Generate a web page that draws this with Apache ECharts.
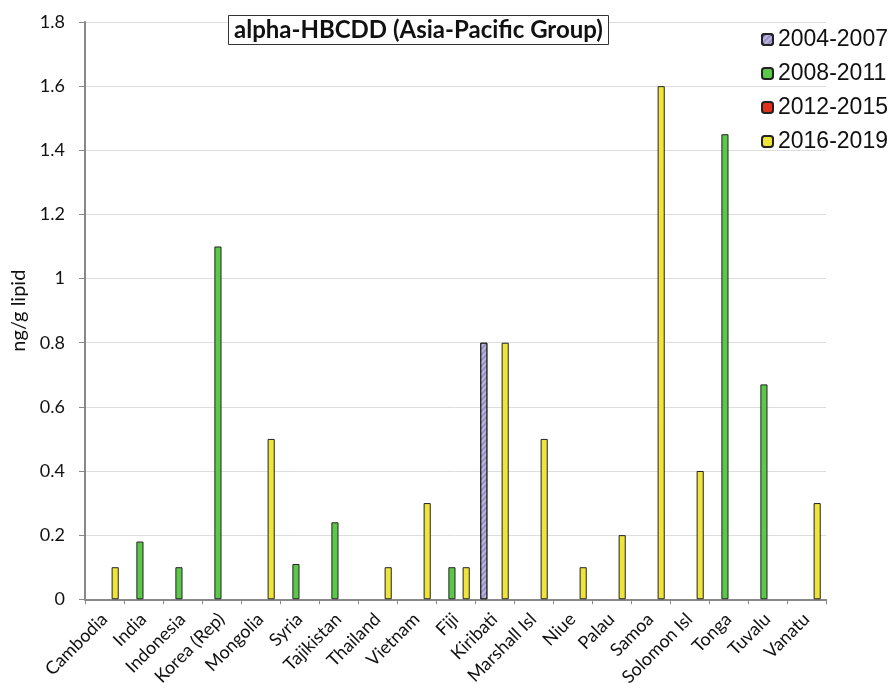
<!DOCTYPE html>
<html>
<head>
<meta charset="utf-8">
<script src="https://cdn.jsdelivr.net/npm/echarts@6/dist/echarts.min.js"></script>
<style>
  html, body { margin: 0; padding: 0; background: #fff; }
  #chart { width: 889px; height: 689px; }
</style>
</head>
<body>
<div id="chart"></div>
<script>
const countries = ['Cambodia', 'India', 'Indonesia', 'Korea (Rep)', 'Mongolia', 'Syria', 'Tajikistan', 'Thailand', 'Vietnam', 'Fiji', 'Kiribati', 'Marshall Isl', 'Niue', 'Palau', 'Samoa', 'Solomon Isl', 'Tonga', 'Tuvalu', 'Vanatu']
const periods = ['2004-2007', '2008-2011', '2012-2015', '2016-2019']

const p2004 = [null, null, null, null, null, null, null, null, null, null, 0.8, null, null, null, null, null, null, null, null]
const p2008 = [null, 0.18, 0.1, 1.1, null, 0.11, 0.24, null, null, 0.1, null, null, null, null, null, null, 1.45, 0.67, null]
const p2012 = [null, null, null, null, null, null, null, null, null, null, null, null, null, null, null, null, null, null, null]
const p2016 = [0.1, null, null, null, 0.5, null, null, 0.1, 0.3, 0.1, 0.8, 0.5, 0.1, 0.2, 1.6, 0.4, null, null, 0.3]

const colors = ['#9690c8', '#5cc84a', '#e0301e', '#eee43a']

let myChart = echarts.init(document.getElementById('chart'))

const bar = (name, data, color, extra) => ({
    name: name,
    type: 'bar',
    data: data,
    barGap: '0%',
    barCategoryGap: '27%',
    itemStyle: Object.assign({ color: color, borderColor: '#222', borderWidth: 1 }, extra || {})
})

myChart.setOption({
    animation: false,
    title: {
        text: 'alpha-HBCDD (Asia-Pacific Group)',
        left: 228,
        top: 15,
        padding: [3, 6, 3, 6],
        borderColor: '#333',
        borderWidth: 1,
        backgroundColor: '#fff',
        textStyle: { fontFamily: 'Lato', fontWeight: 'bold', fontSize: 24, color: '#111' }
    },
    legend: {
        orient: 'vertical',
        left: 756,
        top: 23,
        itemWidth: 11,
        itemHeight: 11,
        itemGap: 11,
        textStyle: { fontFamily: 'Liberation Sans', fontSize: 23, color: '#111' },
        data: periods
    },
    grid: { left: 85, right: 63, top: 22, bottom: 89 },
    xAxis: {
        type: 'category',
        data: countries,
        axisLine: { lineStyle: { color: '#888', width: 2 } },
        axisTick: { show: true, length: 5, lineStyle: { color: '#888' } },
        axisLabel: { rotate: 45, fontFamily: 'Lato', fontSize: 18, color: '#111', margin: 17, interval: 0 }
    },
    yAxis: {
        type: 'value',
        min: 0,
        max: 1.8,
        interval: 0.2,
        name: 'ng/g lipid',
        nameLocation: 'middle',
        nameGap: 56,
        nameTextStyle: { fontFamily: 'Lato', fontSize: 20, color: '#111' },
        axisLine: { show: true, lineStyle: { color: '#888', width: 2 } },
        axisTick: { show: true, length: 6, lineStyle: { color: '#888' } },
        axisLabel: { fontFamily: 'Lato', fontSize: 18, color: '#111', margin: 20 },
        splitLine: { lineStyle: { color: '#ddd' } }
    },
    series: [
        bar(periods[0], p2004, colors[0], {
            decal: {
                symbol: 'rect',
                dashArrayX: [1, 0],
                dashArrayY: [2, 2],
                rotation: -Math.PI / 4,
                color: 'rgba(255,255,255,0.35)'
            }
        }),
        bar(periods[1], p2008, colors[1]),
        bar(periods[2], p2012, colors[2]),
        bar(periods[3], p2016, colors[3])
    ]
})
</script>
</body>
</html>
